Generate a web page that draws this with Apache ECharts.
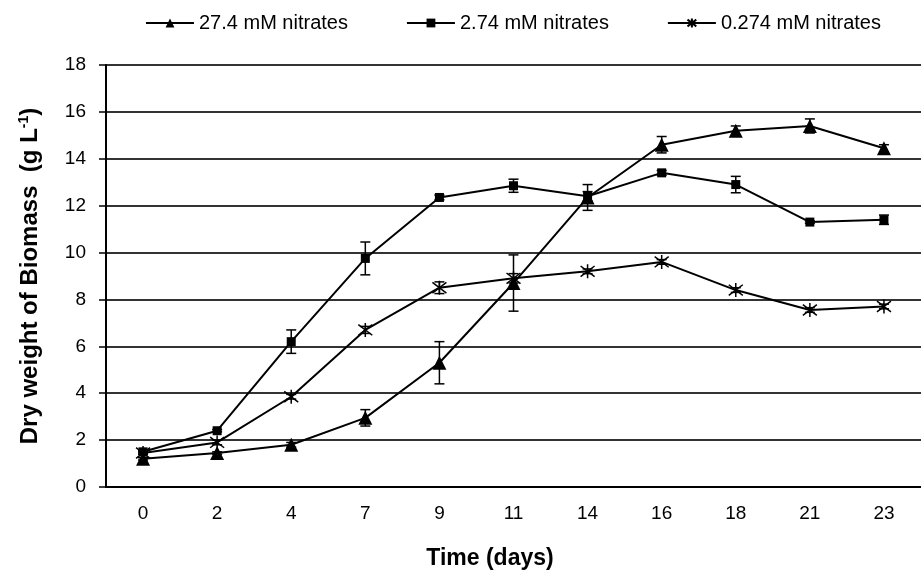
<!DOCTYPE html>
<html>
<head>
<meta charset="utf-8">
<script src="https://cdn.jsdelivr.net/npm/echarts@6/dist/echarts.min.js"></script>
<style>
  html, body { margin: 0; padding: 0; background: #fff; }
  #chart { width: 921px; height: 574px; }
</style>
</head>
<body>
<div id="chart"></div>
<script>
  const days = ["0", "2", "4", "7", "9", "11", "14", "16", "18", "21", "23"];
  const yTicks = [0, 2, 4, 6, 8, 10, 12, 14, 16, 18];

  const names = ["27.4 mM nitrates", "2.74 mM nitrates", "0.274 mM nitrates"];

  const high = [1.2, 1.45, 1.8, 2.95, 5.3, 8.7, 12.35, 14.6, 15.2, 15.4, 14.45];
  const highErr = [0.05, 0.05, 0.1, 0.35, 0.9, 1.2, 0.55, 0.35, 0.2, 0.3, 0.15];

  const mid = [1.5, 2.4, 6.2, 9.75, 12.35, 12.85, 12.4, 13.4, 12.9, 11.3, 11.4];
  const midErr = [0.05, 0.05, 0.5, 0.7, 0.1, 0.28, 0.2, 0.1, 0.35, 0.05, 0.2];

  const low = [1.45, 1.9, 3.85, 6.7, 8.5, 8.9, 9.2, 9.6, 8.4, 7.55, 7.7];
  const lowErr = [0.05, 0.1, 0.1, 0.15, 0.25, 0.2, 0.1, 0.1, 0.1, 0.1, 0.1];

  const font = "Liberation Sans, Arial, sans-serif";
  const star = "path://M5,0L5,10M1.2,1.2L8.8,8.8M8.8,1.2L1.2,8.8";

  function errData(values, errs) {
    return values.map((v, i) => [i, v - errs[i], v + errs[i]]);
  }

  function errorBars(values, errs) {
    return {
      type: "custom",
      silent: true,
      z: 3,
      data: errData(values, errs),
      renderItem(params, api) {
        const x = api.value(0);
        const lo = api.coord([x, api.value(1)]);
        const hi = api.coord([x, api.value(2)]);
        const w = 5;
        const style = { stroke: "#000", lineWidth: 1.5 };
        return {
          type: "group",
          children: [
            { type: "line", shape: { x1: lo[0], y1: lo[1], x2: hi[0], y2: hi[1] }, style },
            { type: "line", shape: { x1: hi[0] - w, y1: hi[1], x2: hi[0] + w, y2: hi[1] }, style },
            { type: "line", shape: { x1: lo[0] - w, y1: lo[1], x2: lo[0] + w, y2: lo[1] }, style }
          ]
        };
      }
    };
  }

  function lineSeries(name, values, symbol, size, itemStyle) {
    return {
      name,
      type: "line",
      data: values,
      symbol,
      symbolSize: size,
      showAllSymbol: true,
      z: 4,
      lineStyle: { color: "#000", width: 2 },
      itemStyle,
      emphasis: { disabled: true }
    };
  }

  const chart = echarts.init(document.getElementById("chart"));
  chart.setOption({
    animation: false,
    backgroundColor: "#fff",
    textStyle: { fontFamily: font },
    title: {
      text: "Time (days)",
      left: 485,
      top: 542,
      textAlign: "center",
      textStyle: { fontFamily: font, fontSize: 23, fontWeight: "bold", color: "#000" }
    },
    legend: {
      data: names,
      left: 140,
      top: 8,
      itemWidth: 48,
      itemHeight: 11,
      itemGap: 58,
      textStyle: { fontFamily: font, fontSize: 20, color: "#000" }
    },
    grid: { left: 106, top: 65, width: 819, height: 422 },
    xAxis: {
      type: "category",
      data: days,
      boundaryGap: true,
      axisLine: { lineStyle: { color: "#000", width: 2 } },
      axisTick: { show: false },
      axisLabel: { color: "#000", fontSize: 19, margin: 17, fontFamily: font }
    },
    yAxis: {
      type: "value",
      min: 0,
      max: 18,
      interval: 2,
      name: "Dry weight of Biomass  (g L{sup|-1})",
      nameLocation: "middle",
      nameGap: 63,
      nameTextStyle: {
        fontFamily: font,
        fontSize: 24,
        fontWeight: "bold",
        color: "#000",
        rich: {
          sup: { fontFamily: font, fontSize: 14, fontWeight: "bold", color: "#000", verticalAlign: "top", padding: [0, 0, 12, 0] }
        }
      },
      axisLine: { show: true, lineStyle: { color: "#000", width: 2 } },
      axisTick: { show: true, length: 7, lineStyle: { color: "#000", width: 1.5 } },
      axisLabel: {
        color: "#000",
        fontSize: 19,
        margin: 20,
        fontFamily: font,
        formatter: (v) => (yTicks.includes(v) ? String(v) : "")
      },
      splitLine: { lineStyle: { color: "#333", width: 2 } }
    },
    series: [
      lineSeries(names[0], high, "triangle", 14, { color: "#000" }),
      lineSeries(names[1], mid, "rect", 9, { color: "#000" }),
      lineSeries(names[2], low, star, 14, { color: "none", borderColor: "#000", borderWidth: 1.5 }),
      errorBars(high, highErr),
      errorBars(mid, midErr),
      errorBars(low, lowErr)
    ]
  });
</script>
</body>
</html>
